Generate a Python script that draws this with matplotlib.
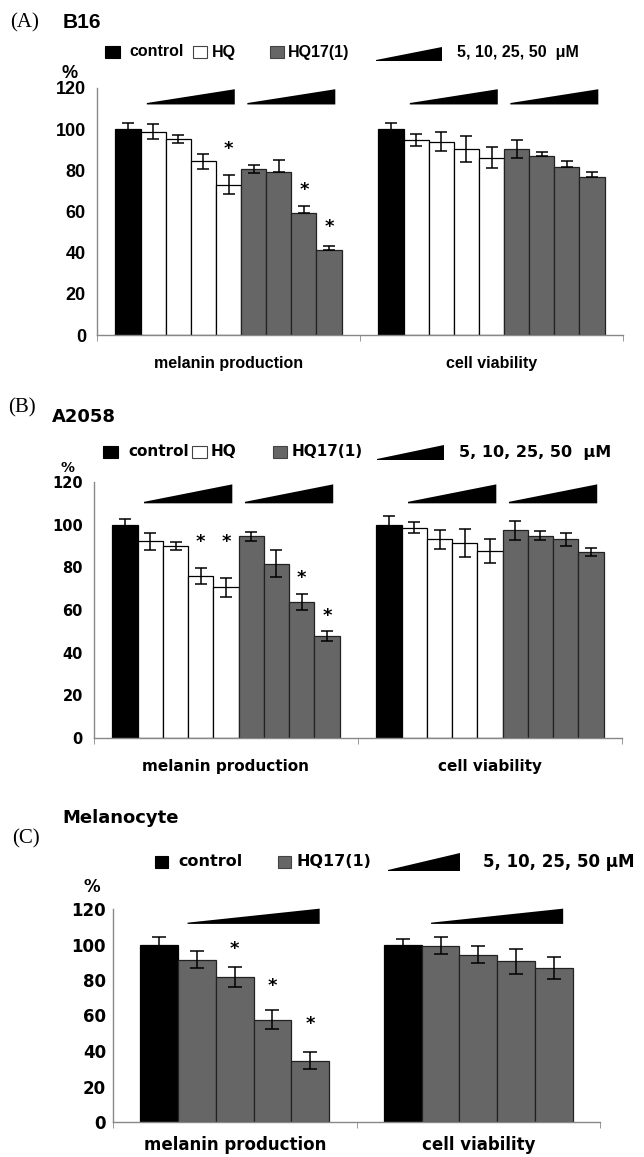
import numpy as np
import matplotlib.pyplot as plt
from matplotlib.patches import Rectangle, Polygon

W, H = 644, 1157

groups = ["melanin production", "cell viability"]
yticks = [0, 20, 40, 60, 80, 100, 120]

# (A) B16: control, HQ 5/10/25/50, HQ17(1) 5/10/25/50
b16_mel = [100, 98.7, 95.3, 84.3, 73.1, 80.6, 79.3, 59.4, 41.3]
b16_mel_up = [2.8, 3.6, 1.8, 3.6, 4.6, 2.0, 5.7, 3.5, 2.0]
b16_mel_lo = [2.8, 3.6, 1.8, 3.6, 4.6, 2.0, 0, 0, 0]
b16_via = [100, 94.7, 94.0, 90.3, 86.1, 90.3, 86.8, 81.6, 76.9]
b16_via_up = [3.0, 2.8, 4.7, 6.2, 5.2, 4.4, 2.0, 3.0, 2.4]
b16_via_lo = [3.0, 2.8, 4.7, 6.2, 5.2, 4.4, 0, 0, 0]
b16_stars = [(4, 91), (7, 71), (8, 53)]

# (B) A2058
a2058_mel = [100, 92.2, 89.9, 76.0, 70.6, 94.5, 81.6, 63.7, 47.9]
a2058_mel_err = [2.8, 4.0, 2.0, 3.9, 4.6, 2.0, 6.3, 3.7, 2.3]
a2058_via = [100, 98.6, 93.1, 91.4, 87.7, 97.3, 94.9, 93.1, 87.2]
a2058_via_err = [4.0, 2.7, 4.6, 6.4, 5.5, 4.4, 2.1, 3.0, 2.0]
a2058_stars = [(3, 92.3), (4, 92.3), (7, 75.5), (8, 57.6)]

# (C) Melanocyte: control, HQ17(1) 5/10/25/50
mel_mel = [100, 91.5, 81.7, 57.7, 34.5]
mel_mel_err = [4.3, 5.0, 5.8, 5.3, 4.8]
mel_via = [100, 99.4, 94.3, 90.6, 86.8]
mel_via_err = [3.3, 5.0, 4.8, 7.0, 6.4]
mel_stars = [(2, 98.2), (3, 76.9), (4, 55.7)]

BLACK, WHITE, GRAY = "black", "white", "#666666"
colors9 = [BLACK] + [WHITE] * 4 + [GRAY] * 4
colors5 = [BLACK] + [GRAY] * 4

fig = plt.figure(figsize=(W / 100, H / 100), dpi=100)
ov = fig.add_axes([0, 0, 1, 1])
ov.set_xlim(0, W)
ov.set_ylim(H, 0)
ov.axis("off")


def ramp_px(x0, x1, ytop, ybot):
    ov.add_patch(Polygon([(x0, ybot), (x1, ybot), (x1, ytop), (x0, ybot - 1)],
                         closed=True, color="black", lw=0))


def panel(rect, data, colors, stars, ramp_groups, gw, font, tfs, lfs, cap, ryb, ryt, lpad, xpad):
    left, top, right, bottom = rect
    ax = fig.add_axes([left / W, 1 - bottom / H, (right - left) / W, (bottom - top) / H])
    ax.patch.set_alpha(0)
    n = len(colors)
    w = gw / n
    offs = (np.arange(n) - (n - 1) / 2) * w
    edges = ["black" if c != GRAY else "#222222" for c in colors]
    for c, (vals, lo, up) in enumerate(data):
        ax.bar(c + offs, vals, width=w, color=colors, edgecolor=edges, linewidth=0.9, zorder=2)
        ax.errorbar(c + offs, vals, yerr=[lo, up], fmt="none", ecolor="black",
                    elinewidth=1.1, capsize=cap, capthick=1.1, zorder=3)
        for i0, i1 in ramp_groups:
            x0 = c + offs[i0] - 0.25 * w
            x1 = c + offs[i1] + 0.25 * w
            ax.add_patch(Polygon([(x0, ryb), (x1, ryb), (x1, ryt), (x0, ryb + 0.7)],
                                 closed=True, color="black", lw=0, clip_on=False, zorder=4))
    for i, y in stars:
        ax.annotate("*", (offs[i], y), xytext=(0, -4.3), textcoords="offset points",
                    ha="center", va="baseline", fontsize=13, fontweight="bold",
                    family="DejaVu Sans")
    ax.set_xlim(-0.5, 1.5)
    ax.set_ylim(0, 120)
    ax.set_yticks(yticks)
    ax.set_yticklabels([str(t) for t in yticks], fontsize=tfs, fontweight="bold", family=font)
    ax.tick_params(axis="y", length=0, pad=lpad)
    ax.set_xticks([0, 1])
    ax.set_xticklabels(groups, fontsize=lfs, fontweight="bold", family=font)
    ax.tick_params(axis="x", which="major", length=0, pad=xpad)
    ax.set_xticks([-0.5, 0.5, 1.5], minor=True)
    ax.tick_params(axis="x", which="minor", length=4, color="#888888", direction="out")
    for s in ["top", "right"]:
        ax.spines[s].set_visible(False)
    for s in ["left", "bottom"]:
        ax.spines[s].set_color("#888888")
        ax.spines[s].set_linewidth(1.0)
    return ax


# ---------- (A) B16 ----------
ov.text(10, 23, "(A)", fontsize=15, family="Liberation Serif", va="center", ha="left")
ov.text(63, 22, "B16", fontsize=15, fontweight="bold", family="Liberation Sans", va="center", ha="left")
ov.add_patch(Rectangle((105, 46), 15, 12, fc=BLACK, ec=BLACK, lw=0.8))
ov.text(129, 52, "control", fontsize=11.5, fontweight="bold", family="Liberation Sans", va="center")
ov.add_patch(Rectangle((193, 46), 14, 12, fc=WHITE, ec="#444444", lw=0.8))
ov.text(212, 52, "HQ", fontsize=11.5, fontweight="bold", family="Liberation Sans", va="center")
ov.add_patch(Rectangle((270, 46), 14, 12, fc=GRAY, ec="#444444", lw=0.8))
ov.text(288, 52, "HQ17(1)", fontsize=11.5, fontweight="bold", family="Liberation Sans", va="center")
ramp_px(376, 442, 47, 61)
ov.text(457, 53, "5, 10, 25, 50  \u03bcM", fontsize=11.5, fontweight="bold", family="Liberation Sans", va="center")
ov.text(70, 74, "%", fontsize=13, fontweight="bold", family="Liberation Sans", va="center", ha="center")
panel((97, 88, 623, 335),
      [(b16_mel, b16_mel_lo, b16_mel_up), (b16_via, b16_via_lo, b16_via_up)],
      colors9, b16_stars, [(1, 4), (5, 8)], 0.86, "Liberation Sans", 13, 11.5, 4,
      112, 119.4, 8, 15)

# ---------- (B) A2058 ----------
ov.text(8, 408, "(B)", fontsize=15, family="Liberation Serif", va="center", ha="left")
ov.text(52, 417, "A2058", fontsize=13, fontweight="bold", family="DejaVu Sans", va="center", ha="left")
ov.add_patch(Rectangle((103, 446), 15, 12, fc=BLACK, ec=BLACK, lw=0.8))
ov.text(128, 452, "control", fontsize=11, fontweight="bold", family="DejaVu Sans", va="center")
ov.add_patch(Rectangle((192, 446), 15, 12, fc=WHITE, ec="#444444", lw=0.8))
ov.text(211, 452, "HQ", fontsize=11, fontweight="bold", family="DejaVu Sans", va="center")
ov.add_patch(Rectangle((273, 446), 14, 12, fc=GRAY, ec="#444444", lw=0.8))
ov.text(292, 452, "HQ17(1)", fontsize=11, fontweight="bold", family="DejaVu Sans", va="center")
ramp_px(377, 444, 445, 460)
ov.text(459, 453, "5, 10, 25, 50  \u03bcM", fontsize=11.5, fontweight="bold", family="DejaVu Sans", va="center")
ov.text(68, 468, "%", fontsize=10, fontweight="bold", family="DejaVu Sans", va="center", ha="center")
panel((94, 482, 622, 738),
      [(a2058_mel, a2058_mel_err, a2058_mel_err), (a2058_via, a2058_via_err, a2058_via_err)],
      colors9, a2058_stars, [(1, 4), (5, 8)], 0.86, "DejaVu Sans", 10.5, 11, 4,
      110, 118.9, 8, 15)

# ---------- (C) Melanocyte ----------
ov.text(12, 839, "(C)", fontsize=15, family="Liberation Serif", va="center", ha="left")
ov.text(62, 818, "Melanocyte", fontsize=13, fontweight="bold", family="DejaVu Sans", va="center", ha="left")
ov.add_patch(Rectangle((155, 856), 13, 12, fc=BLACK, ec=BLACK, lw=0.8))
ov.text(178, 862, "control", fontsize=11.5, fontweight="bold", family="DejaVu Sans", va="center")
ov.add_patch(Rectangle((278, 856), 13, 12, fc=GRAY, ec="#444444", lw=0.8))
ov.text(297, 862, "HQ17(1)", fontsize=11.5, fontweight="bold", family="DejaVu Sans", va="center")
ramp_px(388, 460, 853, 871)
ov.text(483, 862, "5, 10, 25, 50 \u03bcM", fontsize=12, fontweight="bold", family="DejaVu Sans", va="center")
ov.text(92, 887, "%", fontsize=12, fontweight="bold", family="DejaVu Sans", va="center", ha="center")
panel((113, 909, 600, 1122),
      [(mel_mel, mel_mel_err, mel_mel_err), (mel_via, mel_via_err, mel_via_err)],
      colors5, mel_stars, [(1, 4)], 0.775, "DejaVu Sans", 12, 12, 5,
      111.6, 120.2, 5, 10)

fig.savefig("out.png", dpi=100)
